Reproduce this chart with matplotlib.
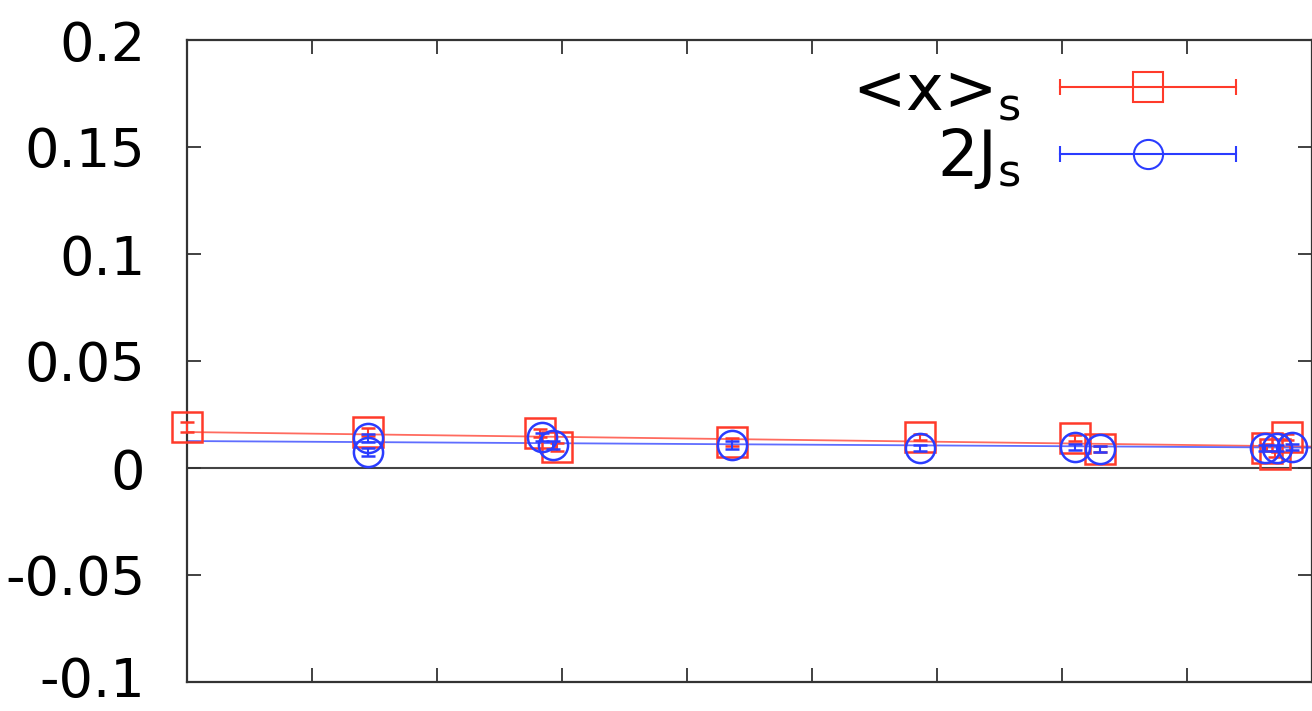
import matplotlib.pyplot as plt
import matplotlib.transforms as mtransforms
from matplotlib.lines import Line2D
from matplotlib.legend_handler import HandlerLine2D

# --- data ---
x_red = [0.0, 1.45, 2.82, 2.96, 4.36, 5.86, 7.10, 7.30, 8.64, 8.70, 8.80]
y_red = [0.0192, 0.0168, 0.0164, 0.0098, 0.0121, 0.0145, 0.0140, 0.0089, 0.0095, 0.0065, 0.0145]
e_red = [0.0023, 0.0020, 0.0020, 0.0020, 0.0018, 0.0015, 0.0015, 0.0015, 0.0015, 0.0015, 0.0015]

x_blue = [1.45, 1.45, 2.84, 2.93, 4.36, 5.86, 7.10, 7.30, 8.62, 8.72, 8.84]
y_blue = [0.0140, 0.0075, 0.0145, 0.0107, 0.0107, 0.0093, 0.0098, 0.0089, 0.0093, 0.0093, 0.0098]
e_blue = [0.0020, 0.0020, 0.0020, 0.0020, 0.0020, 0.0015, 0.0015, 0.0015, 0.0015, 0.0015, 0.0015]

fit_x = [0.0, 9.0]
fit_red = [0.0168, 0.0100]
fit_blue = [0.0126, 0.0095]

labels = ['<x>$_\\mathregular{s}$', '2J$_\\mathregular{s}$']
yticks = [-0.1, -0.05, 0, 0.05, 0.1, 0.15, 0.2]
ytick_labels = ['-0.1', '-0.05', '0', '0.05', '0.1', '0.15', '0.2']

red = '#ff3a2a'
blue = '#2a3cff'

plt.rcParams['font.family'] = ['DejaVu Sans']


class CapLineHandler(HandlerLine2D):
    # gnuplot style key: line with end caps, marker in the middle
    def create_artists(self, legend, orig_handle, xdescent, ydescent,
                       width, height, fontsize, trans):
        arts = super().create_artists(legend, orig_handle, xdescent, ydescent,
                                      width, height, fontsize, trans)
        y = (height - ydescent) / 2
        caps = Line2D([-xdescent, width - xdescent], [y, y], linestyle='none',
                      marker='|', markersize=11, markeredgewidth=1.5,
                      color=orig_handle.get_color(), transform=trans)
        return list(arts) + [caps]


fig = plt.figure(figsize=(13.12, 7.11), dpi=100)
ax = fig.add_axes([187 / 1312, 29 / 711, 1125 / 1312, 642 / 711])

ax.axhline(0, color='#444444', linewidth=1.5, zorder=1)

# fit lines
ax.plot(fit_x, fit_red, color=red, linewidth=1.3, alpha=0.75, zorder=2)
ax.plot(fit_x, fit_blue, color=blue, linewidth=1.3, alpha=0.75, zorder=2)

ax.errorbar(x_red, y_red, yerr=e_red, fmt='s', color=red, mfc='none',
            ms=21, mew=1.8, elinewidth=1.5, capsize=5, zorder=3, clip_on=False)
ax.errorbar(x_blue, y_blue, yerr=e_blue, fmt='o', color=blue, mfc='none',
            ms=21, mew=1.8, elinewidth=1.5, capsize=5, zorder=4, clip_on=False)

h_red = Line2D([], [], color=red, marker='s', mfc='none', ms=21, mew=1.5, linewidth=1.5)
h_blue = Line2D([], [], color=blue, marker='o', mfc='none', ms=21, mew=1.5, linewidth=1.5)
ax.legend([h_red, h_blue], labels, handler_map={Line2D: CapLineHandler()},
          loc='upper right', bbox_to_anchor=((1236 - 187) / 1125, 0.968),
          frameon=False, markerfirst=False, numpoints=1, fontsize=46,
          handlelength=2.75, handletextpad=0.62, labelspacing=0.06,
          borderpad=0, borderaxespad=0)

ax.set_xlim(0, 9)
ax.set_ylim(-0.1, 0.2)
ax.set_xticks(range(0, 10))
ax.set_yticks(yticks)
ax.set_yticklabels(ytick_labels)
ax.tick_params(direction='in', length=10, width=1.3, top=True, right=True,
               labelbottom=False, labelsize=39, pad=30, color='#333333')
for s in ax.spines.values():
    s.set_linewidth(1.6)
    s.set_color('#333333')

# bottom label sits right at the figure edge; nudge it up a little
bottom_lab = ax.get_yticklabels()[0]
bottom_lab.set_transform(bottom_lab.get_transform() +
                         mtransforms.ScaledTranslation(0, 4 / 72, fig.dpi_scale_trans))

fig.savefig('out.png', dpi=100)
